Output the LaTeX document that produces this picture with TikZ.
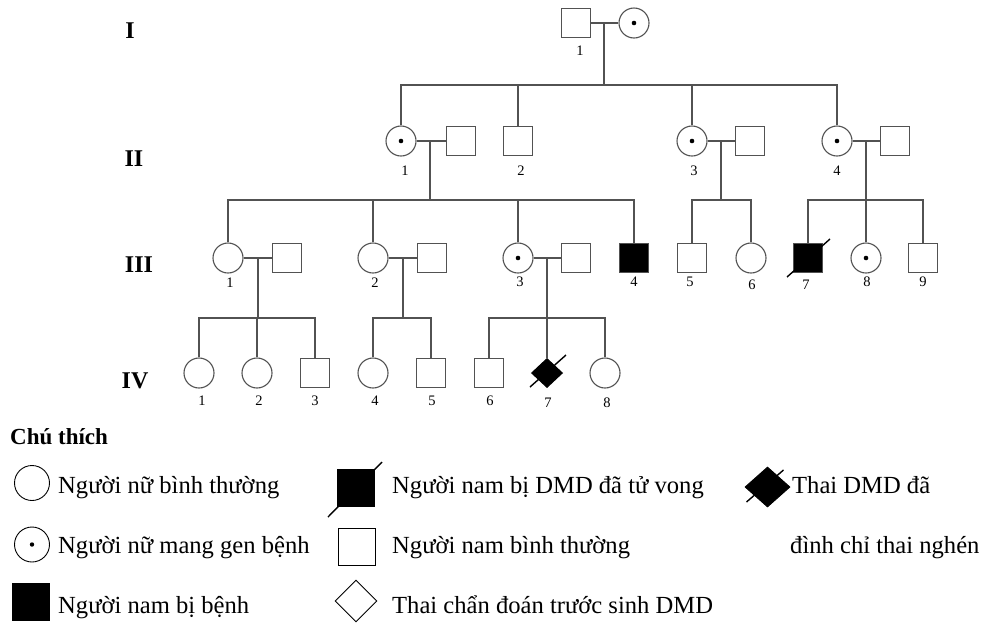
\documentclass[tikz,border=0pt]{standalone}
\usepackage{fontspec}
\setmainfont{Liberation Serif}
\usetikzlibrary{shapes.geometric,calc}
\definecolor{pedline}{gray}{0.32}
\begin{document}
\begin{tikzpicture}[x=1pt,y=-1pt,
  ped/.style={draw=pedline,line width=1.1pt},
  male/.style={ped,rectangle,minimum size=29pt,inner sep=0pt},
  female/.style={ped,circle,minimum size=30pt,inner sep=0pt},
  carrier/.style={female,path picture={\fill[black] (path picture bounding box.center) circle (2.3pt);}},
  affected/.style={male,fill=black},
  fetus/.style={diamond,draw=black,fill=black,line width=1pt,aspect=1,minimum width=31pt,minimum height=29pt,inner sep=0pt},
  deceased/.style={draw=black,line width=1.4pt},
  num/.style={font=\fontsize{14.5}{14.5}\selectfont,anchor=base,inner sep=0pt},
  gen/.style={font=\fontsize{24}{24}\selectfont\bfseries,anchor=base,inner sep=0pt},
  lgtext/.style={font=\fontsize{24.6}{24.6}\selectfont,anchor=base west,inner sep=0pt},
  lgfemale/.style={circle,draw=black,line width=0.9pt,minimum size=35pt,inner sep=0pt},
  lgcarrier/.style={lgfemale,path picture={\fill[black] (path picture bounding box.center) circle (2.2pt);}},
  lgmale/.style={rectangle,draw=black,line width=0.9pt,minimum size=37pt,inner sep=0pt},
  lgaffected/.style={lgmale,fill=black},
  lgdiamond/.style={diamond,draw=black,line width=0.9pt,aspect=1,minimum width=42pt,minimum height=42pt,inner sep=0pt},
  lgfetus/.style={lgdiamond,fill=black,minimum width=45pt,minimum height=40pt}
]
\useasboundingbox[fill=white] (0,0) rectangle (985,622);

% generation numerals
\node[gen] (gI)   at (130,38)  {I};
\node[gen] (gII)  at (134,166) {II};
\node[gen] (gIII) at (139,272) {III};
\node[gen] (gIV)  at (135,388) {IV};

% ---------- generation I ----------
\node[male]    (I1) at (576,23) {};
\node[carrier] (I2) at (634,23) {};
\node[num] (nI1) at (580,55) {1};
\draw[ped] (I1) -- (I2);
\coordinate (cI) at (604,23);
\coordinate (sI) at (604,85);
\draw[ped] (cI) -- (sI);

% ---------- generation II ----------
\node[carrier] (II1)  at (401,141) {};
\node[male]    (II1h) at (461,141) {};
\node[male]    (II2)  at (518,141) {};
\node[carrier] (II3)  at (692,141) {};
\node[male]    (II3h) at (750,141) {};
\node[carrier] (II4)  at (837,141) {};
\node[male]    (II4h) at (895,141) {};
\node[num] (nII1) at (405,175) {1};
\node[num] (nII2) at (521,175) {2};
\node[num] (nII3) at (694,175) {3};
\node[num] (nII4) at (837,175) {4};

\draw[ped] (II1.north) |- (sI) -| (II4.north);
\draw[ped] (II2.north) -- (II2.north |- sI);
\draw[ped] (II3.north) -- (II3.north |- sI);

\draw[ped] (II1) -- (II1h);
\draw[ped] (II3) -- (II3h);
\draw[ped] (II4) -- (II4h);
\coordinate (c1) at (430,141); \coordinate (s1) at (430,200);
\coordinate (c3) at (721,141); \coordinate (s3) at (721,200);
\coordinate (c4) at (866,141); \coordinate (s4) at (866,200);
\draw[ped] (c1) -- (s1);
\draw[ped] (c3) -- (s3);
\draw[ped] (c4) -- (s4);

% ---------- generation III ----------
\node[female]   (III1)  at (228,258) {};
\node[male]     (III1h) at (287,258) {};
\node[female]   (III2)  at (373,258) {};
\node[male]     (III2h) at (432,258) {};
\node[carrier]  (III3)  at (518,258) {};
\node[male]     (III3h) at (576,258) {};
\node[affected] (III4)  at (634,258) {};
\node[male]     (III5)  at (692,258) {};
\node[female]   (III6)  at (751,258) {};
\node[affected] (III7)  at (808,258) {};
\node[carrier]  (III8)  at (866,258) {};
\node[male]     (III9)  at (923,258) {};
\draw[deceased] ($(III7)+(-21,19)$) -- ($(III7)+(22,-19)$);

\node[num] (nIII1) at (230,287) {1};
\node[num] (nIII2) at (375,287) {2};
\node[num] (nIII3) at (520,286) {3};
\node[num] (nIII4) at (634,286) {4};
\node[num] (nIII5) at (690,286) {5};
\node[num] (nIII6) at (752,289) {6};
\node[num] (nIII7) at (806,289) {7};
\node[num] (nIII8) at (867,286) {8};
\node[num] (nIII9) at (923,286) {9};

\draw[ped] (III1.north) |- (s1) -| (III4.north);
\draw[ped] (III2.north) -- (III2.north |- s1);
\draw[ped] (III3.north) -- (III3.north |- s1);
\draw[ped] (III5.north) |- (s3) -| (III6.north);
\draw[ped] (III7.north) |- (s4) -| (III9.north);
\draw[ped] (III8.north) -- (III8.north |- s4);

\draw[ped] (III1) -- (III1h);
\draw[ped] (III2) -- (III2h);
\draw[ped] (III3) -- (III3h);
\coordinate (d1) at (258,258); \coordinate (t1) at (258,318);
\coordinate (d2) at (403,258); \coordinate (t2) at (403,318);
\coordinate (d3) at (547,258); \coordinate (t3) at (547,318);
\draw[ped] (d1) -- (t1);
\draw[ped] (d2) -- (t2);
\draw[ped] (d3) -- (t3);

% ---------- generation IV ----------
\node[female] (IV1) at (199,373) {};
\node[female] (IV2) at (257,373) {};
\node[male]   (IV3) at (315,373) {};
\node[female] (IV4) at (373,373) {};
\node[male]   (IV5) at (431,373) {};
\node[male]   (IV6) at (489,373) {};
\node[fetus]  (IV7) at (547,373) {};
\node[female] (IV8) at (605,373) {};
\draw[deceased] ($(IV7)+(-17,14)$) -- ($(IV7)+(19,-18)$);

\node[num] (nIV1) at (202,405) {1};
\node[num] (nIV2) at (259,405) {2};
\node[num] (nIV3) at (315,405) {3};
\node[num] (nIV4) at (375,405) {4};
\node[num] (nIV5) at (432,405) {5};
\node[num] (nIV6) at (490,405) {6};
\node[num] (nIV7) at (548,407) {7};
\node[num] (nIV8) at (607,407) {8};

\draw[ped] (IV1.north) |- (t1) -| (IV3.north);
\draw[ped] (IV2.north) -- (IV2.north |- t1);
\draw[ped] (IV4.north) |- (t2) -| (IV5.north);
\draw[ped] (IV6.north) |- (t3) -| (IV8.north);
\draw[ped] (IV7.north) -- (IV7.north |- t3);

% ---------- key ----------
\node[lgtext,font=\fontsize{23}{23}\selectfont\bfseries] (key) at (10,444) {Chú thích};

\node[lgfemale]   (kf)  at (32,483)   {};
\node[lgcarrier]  (kc)  at (32,544.5) {};
\node[lgaffected] (ka)  at (31,601.5) {};
\node[lgtext] (tf) at (58,493) {Người nữ bình thường};
\node[lgtext] (tc) at (58,553) {Người nữ mang gen bệnh};
\node[lgtext] (ta) at (58,613) {Người nam bị bệnh};

\node[lgaffected] (kd)  at (356,487.5) {};
\draw[deceased] ($(kd)+(-28,29.5)$) -- ($(kd)+(26,-25.5)$);
\node[lgmale]     (km)  at (356.5,546.5) {};
\node[lgdiamond]  (kp)  at (356,601) {};
\node[lgtext] (td) at (392,493) {Người nam bị DMD đã tử vong};
\node[lgtext] (tm) at (392,553) {Người nam bình thường};
\node[lgtext] (tp) at (392,613) {Thai chẩn đoán trước sinh DMD};

\node[lgfetus] (kt) at (767.5,487) {};
\draw[deceased] ($(kt)+(-21,15)$) -- ($(kt)+(16,-17)$);
\node[lgtext] (tt1) at (792,493) {Thai DMD đã};
\node[lgtext] (tt2) at (790,553) {đình chỉ thai nghén};
\end{tikzpicture}
\end{document}
